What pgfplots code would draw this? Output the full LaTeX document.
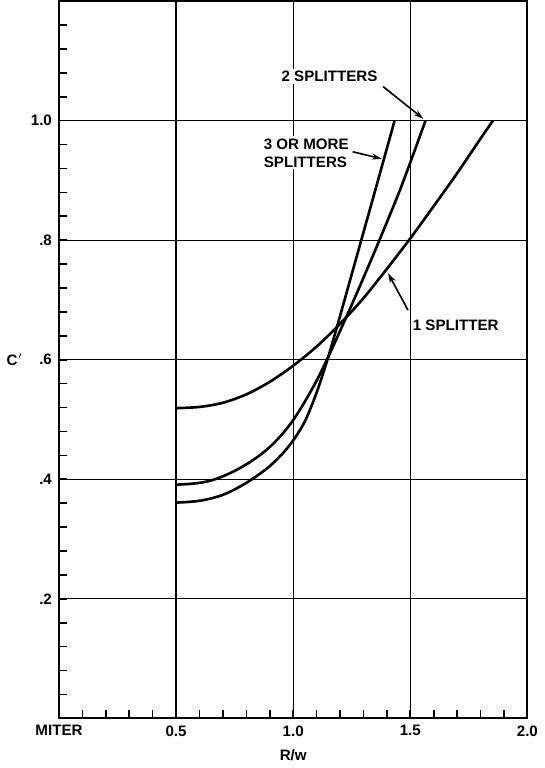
\documentclass[border=0pt]{standalone}
\usepackage{pgfplots}
\pgfplotsset{compat=1.18}
\usepackage{fontspec}
\setmainfont{Liberation Sans}
\usetikzlibrary{arrows.meta}
\newcommand{\lbl}{\fontsize{7.5}{9}\selectfont\bfseries}
\begin{document}
\begin{tikzpicture}
\begin{axis}[
  scale only axis, width=231.5bp, height=354.5bp,
  xmin=0, xmax=2, ymin=0, ymax=1.2,
  axis line style={line width=1.1pt},
  xtick={0,0.5,1,1.5,2}, xticklabels={MITER,0.5,1.0,1.5,2.0},
  ytick={0.2,0.4,0.6,0.8,1.0}, yticklabels={.2,.4,.6,.8,1.0},
  minor xtick={0.1,0.2,0.3,0.4,0.6,0.7,0.8,0.9,1.1,1.2,1.3,1.4,1.6,1.7,1.8,1.9},
  minor ytick={0.04,0.08,0.12,0.16,0.24,0.28,0.32,0.36,0.44,0.48,0.52,0.56,0.64,0.68,0.72,0.76,0.84,0.88,0.92,0.96,1.04,1.08,1.12,1.16},
  tick align=inside, xtick pos=bottom, ytick pos=left,
  major tick length=4bp, minor tick length=4bp,
  tick style={black, line width=0.8pt},
  grid=major, major grid style={black, line width=0.6pt},
  /pgf/number format/assume math mode=true,
  every tick label/.append style={font=\lbl},
  xlabel={R/w}, ylabel={C$'$},
  xlabel style={font=\lbl},
  ylabel style={rotate=-90, font=\lbl, xshift=3bp},
]
% 1 splitter
\addplot[black, line width=1.3pt, smooth, tension=0.5] coordinates {
 (0.5,0.519) (0.6,0.521) (0.7,0.528) (0.8,0.542) (0.9,0.563) (1.0,0.590)
 (1.1,0.622) (1.2,0.660) (1.3,0.703) (1.4,0.752) (1.5,0.803) (1.6,0.857)
 (1.7,0.912) (1.8,0.970) (1.853,1.0)};
% 2 splitters
\addplot[black, line width=1.3pt, smooth, tension=0.5] coordinates {
 (0.5,0.391) (0.55,0.392) (0.6,0.394) (0.65,0.398) (0.7,0.405) (0.75,0.414)
 (0.8,0.425) (0.85,0.438) (0.9,0.454) (0.95,0.474) (1.0,0.499) (1.05,0.530)
 (1.1,0.565) (1.15,0.605) (1.2,0.648) (1.25,0.692) (1.3,0.737) (1.35,0.783)
 (1.4,0.830) (1.45,0.878) (1.5,0.930) (1.565,1.0)};
% 3 or more splitters
\addplot[black, line width=1.3pt, smooth, tension=0.5] coordinates {
 (0.5,0.361) (0.55,0.362) (0.6,0.364) (0.65,0.368) (0.7,0.374) (0.75,0.383)
 (0.8,0.394) (0.85,0.407) (0.9,0.422) (0.95,0.441) (1.0,0.465) (1.05,0.497)
 (1.1,0.545) (1.15,0.605) (1.2,0.673) (1.25,0.743) (1.3,0.813) (1.35,0.883)
 (1.433,1.0)};
\node[fill=white, inner sep=1pt, font=\lbl] at (axis cs:1.155,1.074) {2 SPLITTERS};
\node[fill=white, inner sep=1pt, font=\lbl, align=left] at (axis cs:1.056,0.946) {3 OR MORE\\SPLITTERS};
\node[font=\lbl] at (axis cs:1.694,0.658) {1 SPLITTER};
\draw[line width=0.8pt, -{Stealth[length=5pt,width=3pt]}] (axis cs:1.384,1.057) -- (axis cs:1.556,1.003);
\draw[line width=0.8pt, -{Stealth[length=5pt,width=3pt]}] (axis cs:1.254,0.948) -- (axis cs:1.379,0.936);
\draw[line width=0.8pt, -{Stealth[length=5pt,width=3pt]}] (axis cs:1.49,0.683) -- (axis cs:1.405,0.745);
\end{axis}
\end{tikzpicture}
\end{document}
